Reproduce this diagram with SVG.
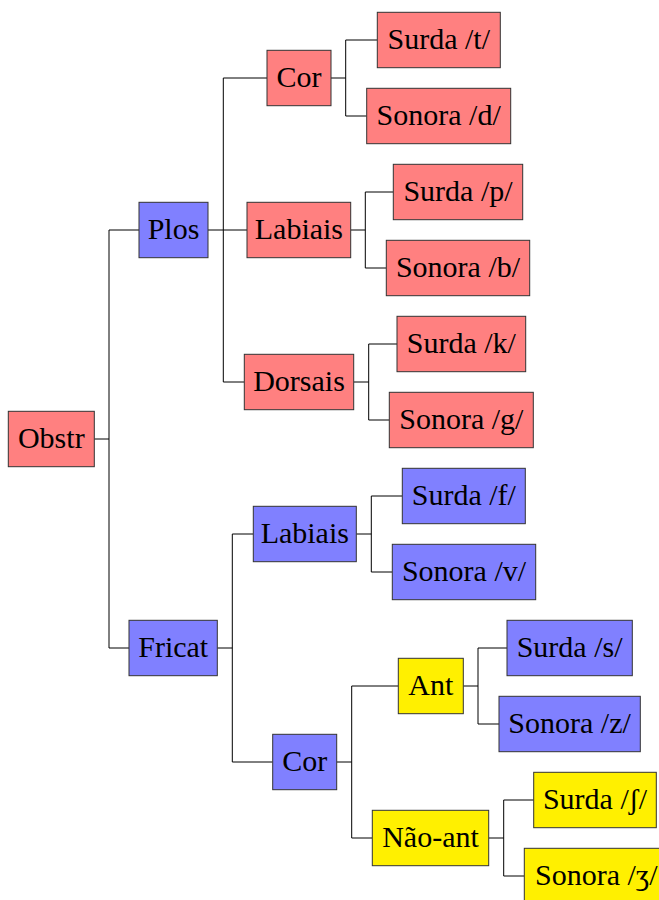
<svg xmlns="http://www.w3.org/2000/svg" width="659" height="900" viewBox="0 0 659 900">
<style>
rect{stroke:#333;stroke-width:1}
.r{fill:#ff8080}.b{fill:#8080ff}.y{fill:#fff000}
text{font-family:"Liberation Serif","DejaVu Serif",serif;font-size:30px;fill:#000;text-anchor:middle}
#connectors path{fill:none;stroke:#000;stroke-width:1}
</style>
<rect width="659" height="900" fill="#fff" style="stroke:none"/>
<g id="connectors">
<path d="M94.3 439H109M109 230V648M109 230H139M109 648H129"/>
<path d="M208 230H223.3M223.3 78V382M223.3 78H267M223.3 230H247M223.3 382H244.3"/>
<path d="M331 78H345.7M345.7 40V116M345.7 40H377.3M345.7 116H366.7"/>
<path d="M350.7 230H365.3M365.3 192V268M365.3 192H393.3M365.3 268H386.3"/>
<path d="M353.7 382H368.7M368.7 344V420M368.7 344H397M368.7 420H389.3"/>
<path d="M217.3 648H232.3M232.3 534V762M232.3 534H253.3M232.3 762H272.7"/>
<path d="M356.3 534H371.3M371.3 496V572M371.3 496H402.3M371.3 572H392.3"/>
<path d="M336.7 762H351.7M351.7 686V838M351.7 686H398.3M351.7 838H372.3"/>
<path d="M463.3 686H478M478 648V724M478 648H507M478 724H499"/>
<path d="M488.7 838H503.7M503.7 800V876M503.7 800H533.7M503.7 876H524.3"/>
</g>
<g id="obstr"><rect class="r" x="8.3" y="411.3" width="86" height="55.4"/><text x="51.3" y="448">Obstr</text></g>
<g id="plos"><rect class="b" x="139" y="202.3" width="69" height="55.4"/><text x="173.5" y="239">Plos</text></g>
<g id="fricat"><rect class="b" x="129" y="620.3" width="88.3" height="55.4"/><text x="173.2" y="657">Fricat</text></g>
<g id="plos-cor"><rect class="r" x="267" y="50.3" width="64" height="55.4"/><text x="299" y="87">Cor</text></g>
<g id="plos-labiais"><rect class="r" x="247" y="202.3" width="103.7" height="55.4"/><text x="298.9" y="239">Labiais</text></g>
<g id="plos-dorsais"><rect class="r" x="244.3" y="354.3" width="109.4" height="55.4"/><text x="299" y="391">Dorsais</text></g>
<g id="fric-labiais"><rect class="b" x="253.3" y="506.3" width="103" height="55.4"/><text x="304.8" y="543">Labiais</text></g>
<g id="fric-cor"><rect class="b" x="272.7" y="734.3" width="64" height="55.4"/><text x="304.7" y="771">Cor</text></g>
<g id="ant"><rect class="y" x="398.3" y="658.3" width="65" height="55.4"/><text x="430.8" y="695">Ant</text></g>
<g id="nao-ant"><rect class="y" x="372.3" y="810.3" width="116.4" height="55.4"/><text x="430.5" y="847">Não-ant</text></g>
<g id="surda-t"><rect class="r" x="377.3" y="12.3" width="123" height="55.4"/><text x="438.8" y="49">Surda /t/</text></g>
<g id="sonora-d"><rect class="r" x="366.7" y="88.3" width="144" height="55.4"/><text x="438.7" y="125">Sonora /d/</text></g>
<g id="surda-p"><rect class="r" x="393.3" y="164.3" width="129.4" height="55.4"/><text x="458" y="201">Surda /p/</text></g>
<g id="sonora-b"><rect class="r" x="386.3" y="240.3" width="143.4" height="55.4"/><text x="458" y="277">Sonora /b/</text></g>
<g id="surda-k"><rect class="r" x="397" y="316.3" width="128.7" height="55.4"/><text x="461.3" y="353">Surda /k/</text></g>
<g id="sonora-g"><rect class="r" x="389.3" y="392.3" width="144" height="55.4"/><text x="461.3" y="429">Sonora /g/</text></g>
<g id="surda-f"><rect class="b" x="402.3" y="468.3" width="123" height="55.4"/><text x="463.8" y="505">Surda /f/</text></g>
<g id="sonora-v"><rect class="b" x="392.3" y="544.3" width="143.4" height="55.4"/><text x="464" y="581">Sonora /v/</text></g>
<g id="surda-s"><rect class="b" x="507" y="620.3" width="125.3" height="55.4"/><text x="569.6" y="657">Surda /s/</text></g>
<g id="sonora-z"><rect class="b" x="499" y="696.3" width="141.3" height="55.4"/><text x="569.6" y="733">Sonora /z/</text></g>
<g id="surda-sh"><rect class="y" x="533.7" y="772.3" width="122.6" height="55.4"/><text x="595" y="809">Surda /ʃ/</text></g>
<g id="sonora-zh"><rect class="y" x="524.3" y="848.3" width="144" height="55.4"/><text x="596.3" y="885">Sonora /ʒ/</text></g>
</svg>
